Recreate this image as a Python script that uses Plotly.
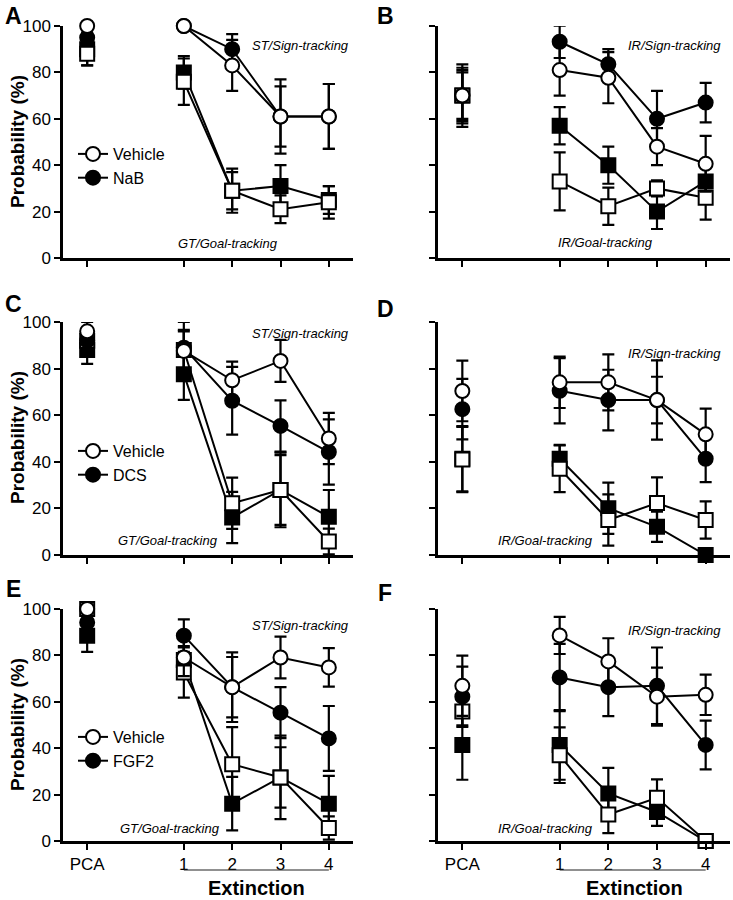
import plotly.graph_objects as go

W, H = 733, 900
FONT = "Liberation Sans, Arial, sans-serif"

# ---------------- data ----------------
categories = ["PCA", "1", "2", "3", "4"]
x_positions = [-1, 1, 2, 3, 4]          # axis placement of the categories

drug_names = {"A": "NaB", "C": "DCS", "E": "FGF2"}

# Panel A (NaB, ST/GT)
A_veh_st = [100, 100, 83, 61, 61];      A_veh_st_err = [0, 0, 11, 16, 14]
A_drug_st = [95, 100, 90, 61, 61];      A_drug_st_err = [0, 0, 6.5, 13, 14]
A_veh_gt = [88, 76, 29, 21, 24];        A_veh_gt_err = [5, 10, 8, 6, 7]
A_drug_gt = [90, 80, 29, 31, 25];       A_drug_gt_err = [7, 7, 9.5, 9, 6]

# Panel B (NaB, IR)
B_veh_st = [70, 81, 77.7, 48, 40.6];    B_veh_st_err = [11, 11, 11, 8, 12]
B_drug_st = [70, 93.2, 83.5, 60, 67];   B_drug_st_err = [13.5, 7, 6.5, 12, 8.5]
B_veh_gt = [70, 33, 22.3, 30, 26];      B_veh_gt_err = [10, 12.5, 8, 3.5, 9.5]
B_drug_gt = [70, 57, 40, 20, 33];       B_drug_gt_err = [12, 8, 8, 7.5, 7]

# Panel C (DCS, ST/GT)
C_veh_st = [96, 87.6, 75, 83.3, 50];    C_veh_st_err = [4, 9, 8, 9, 11]
C_drug_st = [92, 89, 66.2, 55.4, 44.2]; C_drug_st_err = [4, 11, 14.5, 11, 14]
C_veh_gt = [92, 88, 22.2, 27.9, 5.8];   C_veh_gt_err = [4, 8, 11, 16, 5.5]
C_drug_gt = [88, 77.6, 16.1, 27.9, 16.4]; C_drug_gt_err = [6, 11, 11, 15, 11.5]

# Panel D (DCS, IR)
D_veh_st = [70.4, 74.1, 74.1, 66.5, 51.8]; D_veh_st_err = [13, 11, 12, 17, 11]
D_drug_st = [62.6, 70.5, 66.5, 66.5, 41.3]; D_drug_st_err = [13, 14, 13, 10, 10]
D_veh_gt = [41, 37, 15, 22.3, 15];      D_veh_gt_err = [14, 10, 11, 11, 8]
D_drug_gt = [41.3, 41.3, 20.1, 12.1, 0]; D_drug_gt_err = [14, 6, 11, 6.5, 0]

# Panel E (FGF2, ST/GT)
E_veh_st = [100, 79.1, 66.3, 79.1, 74.8]; E_veh_st_err = [0, 8, 13, 9, 8.3]
E_drug_st = [94.2, 88.5, 66.3, 55.3, 44.2]; E_drug_st_err = [0, 7, 15, 11, 14]
E_veh_gt = [100, 72.6, 33.1, 27.4, 5.6]; E_veh_gt_err = [0, 10.8, 16, 18, 5]
E_drug_gt = [88.5, 78, 16.1, 27.4, 16.1]; E_drug_gt_err = [7, 6, 11.5, 13, 12]

# Panel F (FGF2, IR)
F_veh_st = [66.9, 88.6, 77.4, 62.2, 63]; F_veh_st_err = [13, 8, 10, 12.5, 8.7]
F_drug_st = [62.2, 70.5, 66.3, 66.9, 41.4]; F_drug_st_err = [13, 14.5, 12.5, 16.5, 10.5]
F_veh_gt = [55.8, 37, 11.4, 18.6, 0];   F_veh_gt_err = [6, 12, 8, 8, 0]
F_drug_gt = [41.4, 41.4, 20.5, 12.5, 0]; F_drug_gt_err = [15, 15, 11, 6, 0]

y_ticks = [0, 20, 40, 60, 80, 100]

panels = {
    "A": dict(veh_st=(A_veh_st, A_veh_st_err), drug_st=(A_drug_st, A_drug_st_err),
              veh_gt=(A_veh_gt, A_veh_gt_err), drug_gt=(A_drug_gt, A_drug_gt_err),
              top="ST/Sign-tracking", bottom="GT/Goal-tracking"),
    "B": dict(veh_st=(B_veh_st, B_veh_st_err), drug_st=(B_drug_st, B_drug_st_err),
              veh_gt=(B_veh_gt, B_veh_gt_err), drug_gt=(B_drug_gt, B_drug_gt_err),
              top="IR/Sign-tracking", bottom="IR/Goal-tracking"),
    "C": dict(veh_st=(C_veh_st, C_veh_st_err), drug_st=(C_drug_st, C_drug_st_err),
              veh_gt=(C_veh_gt, C_veh_gt_err), drug_gt=(C_drug_gt, C_drug_gt_err),
              top="ST/Sign-tracking", bottom="GT/Goal-tracking"),
    "D": dict(veh_st=(D_veh_st, D_veh_st_err), drug_st=(D_drug_st, D_drug_st_err),
              veh_gt=(D_veh_gt, D_veh_gt_err), drug_gt=(D_drug_gt, D_drug_gt_err),
              top="IR/Sign-tracking", bottom="IR/Goal-tracking"),
    "E": dict(veh_st=(E_veh_st, E_veh_st_err), drug_st=(E_drug_st, E_drug_st_err),
              veh_gt=(E_veh_gt, E_veh_gt_err), drug_gt=(E_drug_gt, E_drug_gt_err),
              top="ST/Sign-tracking", bottom="GT/Goal-tracking"),
    "F": dict(veh_st=(F_veh_st, F_veh_st_err), drug_st=(F_drug_st, F_drug_st_err),
              veh_gt=(F_veh_gt, F_veh_gt_err), drug_gt=(F_drug_gt, F_drug_gt_err),
              top="IR/Sign-tracking", bottom="IR/Goal-tracking"),
}

# ---------------- layout geometry (pixels) ----------------
def px_x(p):
    return p / W

def px_y(p):
    return 1 - p / H

col_dom = {0: (63, 353), 1: (438, 730)}
row_dom = {0: (26, 258), 1: (322, 555), 2: (609, 841)}
panel_pos = {"A": (0, 0), "B": (0, 1), "C": (1, 0), "D": (1, 1), "E": (2, 0), "F": (2, 1)}
legend_for = {"A": "legend", "C": "legend2", "E": "legend3"}

fig = go.Figure()

styles = {
    "drug_gt": dict(symbol="square", fill="black"),
    "veh_gt": dict(symbol="square", fill="white"),
    "drug_st": dict(symbol="circle", fill="black"),
    "veh_st": dict(symbol="circle", fill="white"),
}

annotations = []
shapes = []
layout_axes = {}

for i, (key, pdata) in enumerate(panels.items()):
    r, c = panel_pos[key]
    n = i + 1
    xa = "x" if n == 1 else f"x{n}"
    ya = "y" if n == 1 else f"y{n}"
    xl = "xaxis" if n == 1 else f"xaxis{n}"
    yl = "yaxis" if n == 1 else f"yaxis{n}"
    x0, x1 = col_dom[c]
    y0, y1 = row_dom[r]
    bottom_row = (r == 2)
    layout_axes[xl] = dict(
        domain=[px_x(x0), px_x(x1)], range=[-1.5, 4.5], anchor=ya,
        tickvals=x_positions, ticktext=categories, showticklabels=bottom_row,
        ticks="outside", ticklen=6, tickwidth=2, tickcolor="black",
        showline=True, linewidth=2.5, linecolor="black", showgrid=False, zeroline=False,
        tickfont=dict(family=FONT, size=17, color="black"), fixedrange=True,
        automargin=False,
    )
    layout_axes[yl] = dict(
        domain=[px_y(y1), px_y(y0)], range=[0, 100], anchor=xa,
        tickvals=y_ticks, showticklabels=(c == 0),
        ticks="outside", ticklen=6, tickwidth=2, tickcolor="black",
        showline=True, linewidth=2.5, linecolor="black", showgrid=False, zeroline=False,
        tickfont=dict(family=FONT, size=17, color="black"), fixedrange=True,
        automargin=False,
    )
    for skey in ["drug_gt", "veh_gt", "drug_st", "veh_st"]:
        vals, errs = pdata[skey]
        st = styles[skey]
        marker = dict(symbol=st["symbol"], size=14, color=st["fill"],
                      line=dict(color="black", width=2))
        # PCA point (not connected)
        fig.add_trace(go.Scatter(
            x=x_positions[:1], y=vals[:1], mode="markers", marker=marker,
            error_y=dict(type="data", array=errs[:1], color="black", thickness=2.2, width=6),
            xaxis=xa, yaxis=ya, showlegend=False, cliponaxis=False, hoverinfo="skip"))
        # Extinction sessions
        show_leg = (key in legend_for) and skey in ("veh_st", "drug_st")
        name = "Vehicle" if skey.startswith("veh") else drug_names.get(key, "")
        tr = dict(
            x=x_positions[1:], y=vals[1:], mode="lines+markers", marker=marker,
            line=dict(color="black", width=2),
            error_y=dict(type="data", array=errs[1:], color="black", thickness=2.2, width=6),
            xaxis=xa, yaxis=ya, showlegend=show_leg, name=name, cliponaxis=False,
            hoverinfo="skip")
        if show_leg:
            tr["legend"] = legend_for[key]
            tr["legendrank"] = 1 if skey == "veh_st" else 2
        fig.add_trace(go.Scatter(**tr))

# ---------------- text annotations ----------------
def ann(text, x, y, size, bold=False, italic=False, xanchor="center", angle=0):
    t = text
    if bold:
        t = f"<b>{t}</b>"
    if italic:
        t = f"<i>{t}</i>"
    annotations.append(dict(text=t, x=px_x(x), y=px_y(y), xref="paper", yref="paper",
                            showarrow=False, xanchor=xanchor, yanchor="middle",
                            textangle=angle,
                            font=dict(family=FONT, size=size, color="black")))

# panel letters
for letter, (lx, ly) in {"A": (13, 16), "B": (385, 16), "C": (13, 304), "D": (385, 309),
                          "E": (13, 589), "F": (385, 593)}.items():
    ann(letter, lx, ly, 23, bold=True)

# tracking labels
label_pos = {
    "A": ((300, 45), (228, 243)),
    "B": ((674, 45), (605, 242)),
    "C": ((300, 333), (168, 540)),
    "D": ((674, 353), (545, 540)),
    "E": ((300, 625), (170, 828)),
    "F": ((674, 630), (545, 828)),
}
for key, ((tx, ty), (bx, by)) in label_pos.items():
    ann(panels[key]["top"], tx, ty, 13, italic=True)
    ann(panels[key]["bottom"], bx, by, 13, italic=True)

# y titles
for ymid in [142, 438, 725]:
    ann("Probability (%)", 17, ymid, 19, bold=True, angle=-90)

# Extinction labels and underline
for n, cx in [(5, 256), (6, 634)]:
    ann("Extinction", cx, 888, 20, bold=True)
    shapes.append(dict(type="line", xref=f"x{n}", yref="paper", x0=1, x1=4,
                       y0=px_y(870), y1=px_y(870), line=dict(color="#222", width=1.2)))

leg_common = dict(font=dict(family=FONT, size=16, color="black"), bgcolor="rgba(0,0,0,0)",
                  xanchor="left", yanchor="top", itemsizing="trace", tracegroupgap=0)

fig.update_layout(
    width=W, height=H, margin=dict(l=0, r=0, t=0, b=0, pad=0, autoexpand=False),
    paper_bgcolor="white", plot_bgcolor="white",
    annotations=annotations, shapes=shapes,
    legend=dict(x=px_x(73), y=px_y(137), **leg_common),
    legend2=dict(x=px_x(73), y=px_y(434), **leg_common),
    legend3=dict(x=px_x(73), y=px_y(720), **leg_common),
    **layout_axes,
)

fig.write_html("out.html", config={"displayModeBar": False},
               post_script="document.body.style.margin='0';document.body.style.overflow='hidden';")
